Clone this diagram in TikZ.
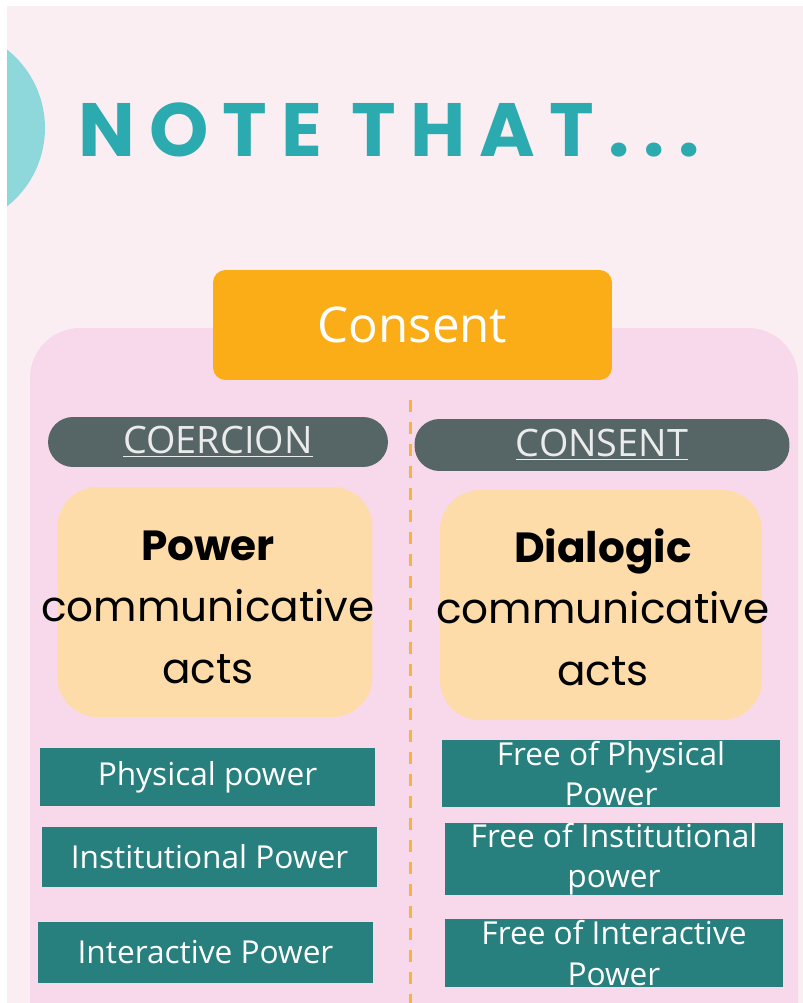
\documentclass[tikz,border=0pt]{standalone}
\usepackage{fontspec}
\setmainfont{Open Sans}
\newfontfamily\titlefont[LetterSpace=18.5]{Poppins}
\newfontfamily\actfont{Poppins}
\usetikzlibrary{positioning}

\definecolor{bgpink}{HTML}{FBEEF3}
\definecolor{panelpink}{HTML}{F8D9EB}
\definecolor{blobteal}{HTML}{8ED8DB}
\definecolor{titleteal}{HTML}{2BAAAF}
\definecolor{consentorange}{HTML}{FBAD18}
\definecolor{pillslate}{HTML}{566566}
\definecolor{actpeach}{HTML}{FDDCA9}
\definecolor{boxteal}{HTML}{277F7E}
\definecolor{dashorange}{HTML}{F5B43A}

\begin{document}
\begin{tikzpicture}[x=0.02cm, y=-0.02cm,
    topbox/.style={fill=consentorange, rounded corners=0.25cm, text=white,
        minimum width=7.98cm, minimum height=2.2cm,
        font=\fontsize{28}{32}\selectfont},
    headpill/.style={fill=pillslate, rounded corners=0.5cm, text=white!92!black,
        minimum height=1cm, font=\fontsize{21.5}{24}\selectfont},
    actbox/.style={fill=actpeach, rounded corners=0.8cm, minimum width=6.3cm,
        minimum height=4.6cm},
    acttext/.style={align=center, text=black, font=\actfont\fontsize{24}{35}\selectfont},
    powbox/.style={fill=boxteal, text=white, align=center, minimum width=6.72cm,
        font=\fontsize{18}{23}\selectfont}
    ]
    \useasboundingbox (0,0) rectangle (803,1003);

    % background and blob
    \fill[white] (0,0) rectangle (803,1003);
    \fill[bgpink] (7,6) rectangle (803,1003);
    \begin{scope}
    \clip (7,6) rectangle (803,1003);
    \fill[blobteal] (-55,128) circle (100);
    \end{scope}
    \node [text=titleteal, anchor=base west, inner sep=0,
        font=\titlefont\bfseries\fontsize{43}{48}\selectfont] (title) at (78,157) {NOTE THAT...};

    % main panel
    \fill[panelpink] (30,1060) -- (30,378) arc (180:270:50) -- (748,328) arc (270:360:50) -- (798,1060) -- cycle;
    \draw[dashorange, line width=1.7pt, dash pattern=on 0.24cm off 0.2cm] (410,400) -- (410,1003);

    \node [topbox] (consent) at (412.5,325) {Consent};

    % column heads
    \node [headpill, minimum width=6.8cm] (coercion) at (218,442) {\underline{COERCION}};
    \node [headpill, minimum width=7.5cm, minimum height=1.04cm] (consenthead) at (602,445) {\underline{CONSENT}};

    % communicative acts
    \node [actbox] (poweract) at (215,602) {};
    \node [acttext] (powertext) at (208,607) {\textbf{Power}\\communicative\\acts};
    \node [actbox, minimum width=6.44cm] (dialogact) at (601,605) {};
    \node [acttext] (dialogtext) at (603,607) {\textbf{Dialogic}\\communicative\\acts};

    % kinds of power
    \node [powbox, minimum height=1.16cm] (physical) at (207.5,777) {Physical power};
    \node [powbox, minimum height=1.2cm] (institutional) at (209.5,857) {Institutional Power};
    \node [powbox, minimum height=1.22cm] (interactive) at (205.5,952) {Interactive Power};

    \node [powbox, minimum width=6.76cm, minimum height=1.34cm, inner sep=0] (freephysical) at (611,773.5) {Free of Physical\\Power};
    \node [powbox, minimum width=6.76cm, minimum height=1.36cm, inner sep=0] (freeinstitutional) at (614,859) {Free of Institutional\\power};
    \node [powbox, minimum width=6.76cm, minimum height=1.36cm, inner sep=0] (freeinteractive) at (614,953) {Free of Interactive\\Power};
\end{tikzpicture}
\end{document}
